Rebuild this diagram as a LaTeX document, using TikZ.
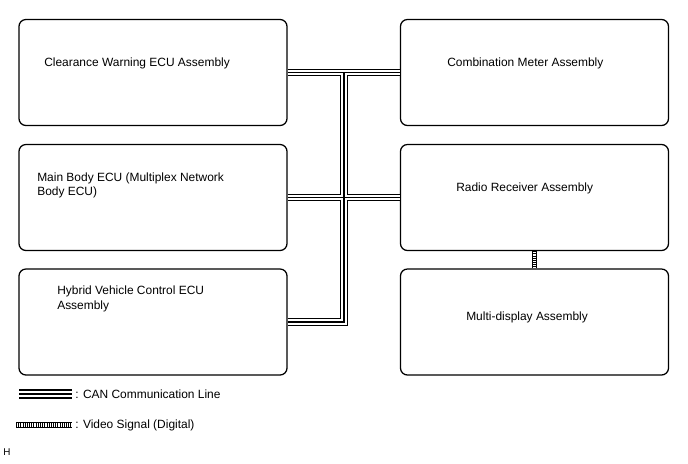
\documentclass[tikz,border=0pt]{standalone}
\usepackage{fontspec}
\setmainfont{Liberation Sans}
\begin{document}
\begin{tikzpicture}[x=0.025cm, y=-0.025cm,
        ecubox/.style={draw=black, line width=0.9pt, rounded corners=5pt, minimum width=6.7cm, minimum height=2.65cm, inner sep=0pt},
        lbl/.style={anchor=west, inner sep=0pt, align=left, font=\fontsize{8.5}{10.3}\selectfont},
        videoline/.style={line width=3.6pt, draw=black, postaction={draw=white, line width=2.3pt}, postaction={draw=black, line width=2.3pt, dash pattern=on 0.45pt off 1.1pt}},
        ]
        \useasboundingbox (0,0) rectangle (688,463);

        % Boxes
        \node[ecubox] (cw) at (153,72.5) {};
        \node[ecubox] (mb) at (153,197.5) {};
        \node[ecubox] (hv) at (153,322) {};
        \node[ecubox] (cm) at (534.5,72.5) {};
        \node[ecubox] (rr) at (534.5,197.5) {};
        \node[ecubox] (md) at (534.5,322) {};

        % Texts
        \node[lbl] (cwtext) at (44,63) {Clearance Warning ECU Assembly};
        \node[lbl] (mbtext) at (37,185.5) {Main Body ECU (Multiplex Network\\Body ECU)};
        \node[lbl] (hvtext) at (57,299) {Hybrid Vehicle Control ECU\\Assembly};
        \node[lbl] (cmtext) at (447,63) {Combination Meter Assembly};
        \node[lbl] (rrtext) at (456,188) {Radio Receiver Assembly};
        \node[lbl] (mdtext) at (466,317) {Multi-display Assembly};

        % CAN bus
        \coordinate (trunk) at (344,72.5);
        \foreach \w/\c in {5.6pt/black, 3.6pt/white, 1.1pt/black}
            \draw[line width=\w, draw=\c] (cw.east) -- (cm.west) (mb.east) -- (rr.west) (hv.east) -| (trunk);

        % Video signal
        \draw[videoline] (rr.south) -- (md.north);

        % Legend
        \coordinate (canstart) at (19,394);
        \node[lbl] (canlbl) at (75,394) {: CAN Communication Line};
        \foreach \w/\c in {6.6pt/black, 4pt/white, 1.4pt/black}
            \draw[line width=\w, draw=\c, shorten >=2pt] (canstart) -- (canlbl.west);

        \coordinate (vidstart) at (16,425);
        \node[lbl] (vidlbl) at (75,425) {: Video Signal (Digital)};
        \draw[videoline, shorten >=2pt] (vidstart) -- (vidlbl.west);

        \node[lbl, font=\fontsize{7}{8}\selectfont] (hmark) at (3,452) {H};
\end{tikzpicture}
\end{document}
